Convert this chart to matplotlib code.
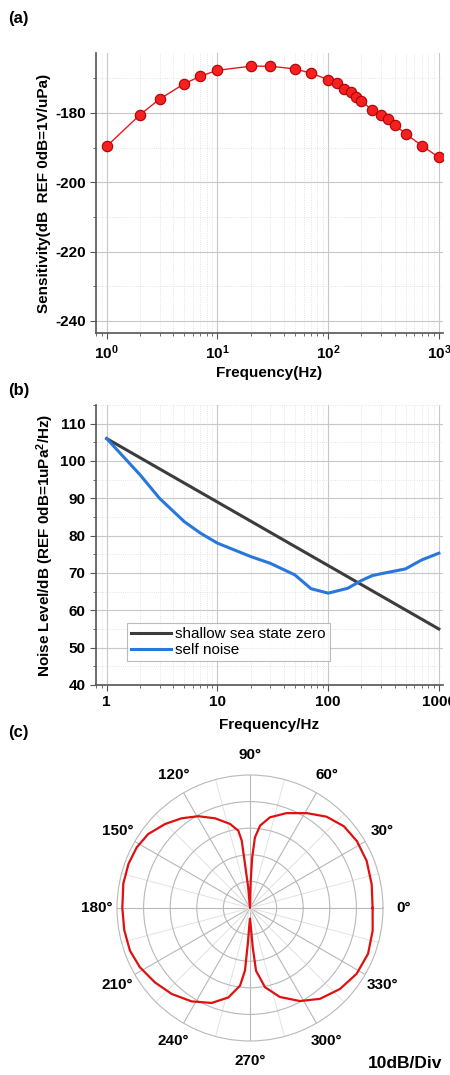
import numpy as np
import matplotlib
matplotlib.use('Agg')
from matplotlib import pyplot as plt
from matplotlib.ticker import FixedLocator, NullFormatter, LogLocator

plt.rcParams['font.family'] = ['Liberation Sans', 'DejaVu Sans']
plt.rcParams['axes.unicode_minus'] = False
plt.rcParams['mathtext.fontset'] = 'custom'
plt.rcParams['mathtext.rm'] = 'Liberation Sans'
plt.rcParams['mathtext.bf'] = 'Liberation Sans:bold'

# (a) sensitivity curve
sens_freq = [1, 2, 3, 5, 7, 10, 20, 30, 50, 70, 100, 120, 140, 160, 180, 200,
             250, 300, 350, 400, 500, 700, 1000]
sens_db = [-189.6, -180.5, -176.0, -171.6, -169.4, -167.7, -166.5, -166.5, -167.3,
           -168.5, -170.4, -171.5, -173.1, -174.0, -175.4, -176.5, -179.2, -180.5,
           -181.7, -183.4, -186.0, -189.4, -192.8]

# (b) noise levels
sea_freq = [1, 1000]
sea_db = [106.0, 55.0]
self_freq = [1, 2, 3, 5, 7, 10, 20, 30, 50, 70, 100, 150, 200, 250, 300, 500, 700, 1000]
self_db = [106.0, 96.3, 90.0, 83.8, 80.7, 78.0, 74.4, 72.6, 69.5, 65.8, 64.6, 65.9,
           68.0, 69.3, 69.8, 71.1, 73.5, 75.3]

# (c) directivity pattern (degrees, dB above the centre)
dir_deg = [0, 11, 22, 32, 41, 50, 59, 69, 77.6, 83, 86, 87.5, 88.5, 90,
           95, 96.5, 97, 98.6, 103.4, 111.3, 119.4, 127.3, 135.3, 144, 151.8,
           160, 169, 180, 190, 199.6, 208.3, 218, 227.7, 238, 248, 256.4, 262.7,
           265.4, 266.5, 268, 270, 272, 274, 275.5, 280.7, 288.6, 298.2, 307.6,
           318, 328.3, 338.8, 349.5, 360]
dir_r = [46.1, 46.6, 47.3, 47.4, 46.8, 44.8, 41.6, 38.2, 34.9, 31.2, 26.6, 19.0, 10.3, 0.0,
         7.8, 16.6, 25.5, 29.4, 32.5, 36.2, 39.6, 42.4, 44.9, 47.3, 48.3,
         48.6, 48.5, 48.0, 48.0, 47.9, 47.0, 45.4, 43.7, 41.4, 38.5, 34.6, 29.4,
         23.6, 13.5, 6.0, 4.0, 6.0, 14.9, 23.7, 30.3, 35.3, 39.7, 43.1,
         45.5, 47.1, 47.6, 46.9, 46.1]

W, H = 450, 1075
fig = plt.figure(figsize=(W / 100, H / 100), dpi=100)

tick_font = dict(fontsize=11, fontweight='bold')
label_font = dict(fontsize=11, fontweight='bold')


def style_log_axes(ax):
    ax.set_xscale('log')
    ax.set_xlim(0.8, 1090)
    ax.xaxis.set_minor_locator(LogLocator(base=10, subs=np.arange(2, 10)))
    ax.xaxis.set_minor_formatter(NullFormatter())
    ax.grid(which='major', color='#c8c8c8', lw=0.8)
    ax.grid(which='minor', color='#dcdcdc', lw=0.6, ls=':')
    ax.spines['top'].set_visible(False)
    ax.spines['right'].set_visible(False)
    for s in ('left', 'bottom'):
        ax.spines[s].set_color('#555555')
        ax.spines[s].set_linewidth(1.2)
    ax.tick_params(which='major', direction='out', length=4, color='#555555')
    ax.tick_params(which='minor', direction='out', length=2, color='#555555')
    for lb in ax.get_xticklabels() + ax.get_yticklabels():
        lb.set_fontweight('bold')
        lb.set_fontsize(11)
    ax.set_axisbelow(True)


# ---- (a)
ax1 = fig.add_axes([96 / W, 1 - 333 / H, 347 / W, 280 / H])
ax1.plot(sens_freq, sens_db, '-o', color='#e81a1a', lw=1.0, ms=7.5,
         mfc='#f52020', mec='#b00000', mew=0.8)
ax1.set_ylim(-243.5, -162.7)
ax1.yaxis.set_major_locator(FixedLocator([-240, -220, -200, -180]))
ax1.yaxis.set_minor_locator(FixedLocator([-230, -210, -190, -170]))
style_log_axes(ax1)
ax1.set_xticks([1, 10, 100, 1000])
ax1.set_xticklabels(['$\\mathbf{10^0}$', '$\\mathbf{10^1}$', '$\\mathbf{10^2}$',
                     '$\\mathbf{10^3}$'], **tick_font)
ax1.set_xlabel('Frequency(Hz)', labelpad=3, **label_font)
ax1.set_ylabel('Sensitivity(dB  REF 0dB=1V/uPa)', labelpad=3, **label_font)

# ---- (b)
ax2 = fig.add_axes([96 / W, 1 - 685 / H, 347 / W, 280 / H])
ax2.plot(sea_freq, sea_db, color='#3c3c3c', lw=2.2, label='shallow sea state zero')
ax2.plot(self_freq, self_db, color='#2878dc', lw=2.2, label='self noise')
ax2.set_ylim(40, 115)
ax2.yaxis.set_major_locator(FixedLocator(np.arange(40, 111, 10)))
ax2.yaxis.set_minor_locator(FixedLocator(np.arange(45, 116, 10)))
style_log_axes(ax2)
ax2.set_xticks([1, 10, 100, 1000])
ax2.set_xticklabels(['1', '10', '100', '1000'], **tick_font)
ax2.set_xlabel('Frequency/Hz', labelpad=6, **label_font)
ax2.set_ylabel('Noise Level/dB (REF 0dB=1uPa$\\mathbf{^2}$/Hz)', labelpad=3, **label_font)
leg = ax2.legend(loc='lower left', bbox_to_anchor=(0.09, 0.085), fontsize=11,
                 frameon=True, fancybox=False, handlelength=2.6, borderpad=0.25,
                 labelspacing=0.15, handletextpad=0.3, borderaxespad=0)
leg.get_frame().set_edgecolor('#aaaaaa')
leg.get_frame().set_linewidth(0.8)

# ---- (c)
r_px = 133
ax3 = fig.add_axes([(250 - r_px) / W, 1 - (908 + r_px) / H, 2 * r_px / W, 2 * r_px / H],
                   projection='polar')
ax3.plot(np.radians(dir_deg), dir_r, color='#e01010', lw=1.6)
ax3.set_ylim(0, 50)
ax3.set_yticks([10, 20, 30, 40])
ax3.set_yticklabels([])
ax3.set_xticks(np.radians(np.arange(0, 360, 30)))
ax3.set_xticklabels([f'{d}°' for d in range(0, 360, 30)], fontsize=11, fontweight='bold')
ax3.xaxis.set_minor_locator(FixedLocator(np.radians(np.arange(15, 360, 30))))
ax3.grid(which='major', color='#b8b8b8', lw=0.8)
ax3.xaxis.grid(which='minor', color='#e2e2e2', lw=0.7)
ax3.tick_params(axis='x', which='minor', length=0)
ax3.tick_params(axis='x', pad=4)
ax3.spines['polar'].set_color('#b8b8b8')
ax3.spines['polar'].set_linewidth(0.8)
ax3.set_axisbelow(True)

fig.text(405 / W, 1 - 1064 / H, '10dB/Div', ha='center', va='center',
         fontsize=12.5, fontweight='bold')

for lbl, y in (('(a)', 18), ('(b)', 390), ('(c)', 733)):
    fig.text(8 / W, 1 - y / H, lbl, ha='left', va='center', fontsize=12, fontweight='bold')

fig.savefig('out.png', dpi=100)
